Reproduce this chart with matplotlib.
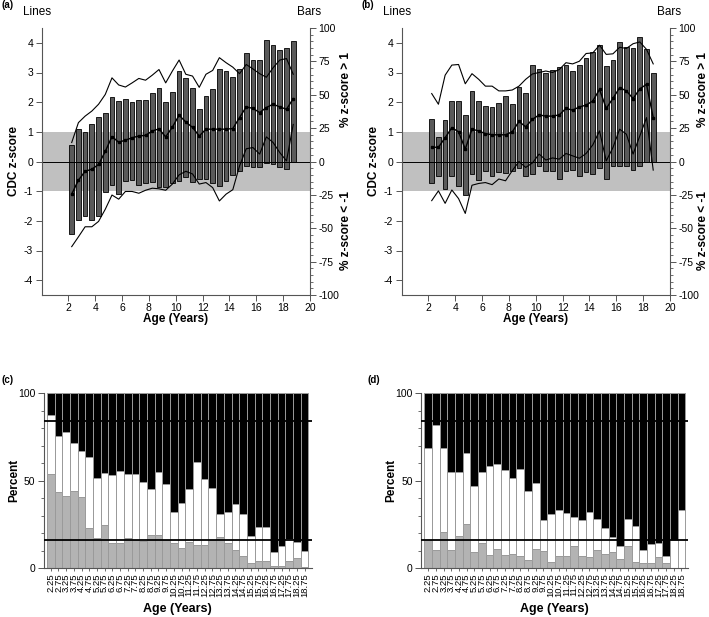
import numpy as np
import matplotlib
matplotlib.use('Agg')
import matplotlib.pyplot as plt
from matplotlib.patches import Rectangle
from matplotlib.transforms import blended_transform_factory
from matplotlib.ticker import MultipleLocator

plt.rcParams['font.family'] = ['Liberation Sans', 'DejaVu Sans']
plt.rcParams['axes.unicode_minus'] = False

# age groups (years)
ages = [2.25, 2.75, 3.25, 3.75, 4.25, 4.75, 5.25, 5.75, 6.25, 6.75, 7.25, 7.75,
        8.25, 8.75, 9.25, 9.75, 10.25, 10.75, 11.25, 11.75, 12.25, 12.75, 13.25,
        13.75, 14.25, 14.75, 15.25, 15.75, 16.25, 16.75, 17.25, 17.75, 18.25, 18.75]

# group A: % z-score > 1 and % z-score < -1
a_above = [12.4, 24.3, 22.3, 28.3, 33.3, 36.5, 48.3, 45.4, 46.7, 44.3, 46.0, 46.2,
           51.0, 54.9, 44.9, 52.1, 67.7, 62.6, 54.7, 39.4, 49.3, 54.2, 69.3,
           68.0, 63.3, 69.1, 81.4, 76.2, 76.2, 90.7, 87.5, 83.5, 85.0, 90.2]
a_below = [54.0, 43.5, 41.1, 44.0, 40.7, 23.1, 17.5, 24.5, 14.7, 14.2, 17.5, 16.0,
           15.5, 18.8, 18.8, 16.4, 14.3, 11.8, 15.1, 13.1, 13.1, 15.9, 18.0,
           14.5, 10.3, 6.8, 3.3, 4.3, 4.3, 1.1, 1.5, 3.9, 5.8, 0.6]
# group A: CDC z-score lines
a_upper = [0.64, 1.31, 1.53, 1.70, 1.93, 2.26, 2.82, 2.58, 2.51, 2.65, 2.80, 2.74,
           2.91, 3.10, 2.65, 3.05, 3.42, 2.94, 2.88, 2.50, 2.94, 3.07, 3.50,
           3.33, 3.18, 2.96, 3.27, 3.12, 2.96, 2.84, 3.16, 3.42, 3.47, 2.94]
a_mid = [-1.10, -0.63, -0.33, -0.26, -0.10, 0.34, 0.84, 0.65, 0.72, 0.80, 0.86, 0.88,
         1.03, 1.10, 0.83, 1.16, 1.56, 1.33, 1.15, 0.86, 1.09, 1.09, 1.09,
         1.09, 1.11, 1.48, 1.84, 1.79, 1.65, 1.82, 1.93, 1.84, 1.76, 2.12]
a_lower = [-2.87, -2.54, -2.20, -2.20, -2.02, -1.61, -1.13, -1.27, -1.01, -1.01, -1.07, -0.97,
           -0.90, -0.92, -0.97, -0.76, -0.45, -0.33, -0.42, -0.76, -0.71, -0.88, -1.33,
           -1.10, -0.95, -0.15, 0.43, 0.47, 0.25, 0.83, 0.64, 0.30, 0.02, 1.25]

# group B
b_above = [31.6, 18.5, 31.2, 45.0, 45.3, 34.5, 53.0, 45.1, 41.8, 40.5, 43.7, 48.7,
           43.4, 55.8, 51.1, 72.3, 69.0, 66.5, 68.6, 70.6, 72.5, 67.6, 72.0,
           77.2, 82.3, 87.3, 71.6, 75.9, 89.8, 85.9, 85.3, 93.0, 84.0, 66.5]
b_below = [16.0, 10.6, 20.6, 10.6, 18.3, 25.2, 9.5, 14.2, 7.4, 11.0, 7.8, 8.3,
           6.8, 4.9, 11.2, 9.6, 3.4, 7.0, 6.8, 12.9, 7.0, 6.3, 10.6,
           8.2, 9.5, 5.2, 12.9, 3.5, 3.3, 3.1, 6.3, 3.0, 0.0, 0.0]
b_upper = [2.29, 1.93, 2.91, 3.25, 3.27, 2.62, 2.96, 2.77, 2.54, 2.54, 2.38, 2.38,
           2.41, 2.54, 2.77, 2.95, 3.00, 3.05, 3.00, 3.10, 3.33, 3.29, 3.38,
           3.64, 3.66, 3.92, 3.61, 3.63, 3.85, 3.81, 3.97, 4.03, 3.78, 3.29]
b_mid = [0.48, 0.48, 0.80, 1.14, 1.00, 0.42, 1.09, 1.03, 0.94, 0.90, 0.90, 0.90,
         1.00, 1.35, 1.17, 1.42, 1.57, 1.53, 1.53, 1.57, 1.79, 1.73, 1.84,
         1.90, 2.04, 2.43, 1.79, 2.13, 2.49, 2.38, 2.12, 2.45, 2.60, 1.48]
b_lower = [-1.32, -0.99, -1.41, -0.96, -1.25, -1.75, -0.80, -0.74, -0.71, -0.78, -0.59, -0.65,
           -0.31, 0.00, -0.20, -0.05, 0.25, 0.05, 0.12, 0.08, 0.27, 0.19, 0.11,
           0.27, 0.56, 1.03, 0.02, 0.47, 1.09, 0.92, 0.25, 0.86, 1.48, -0.29]

W, H = 709, 617
fig = plt.figure(figsize=(W / 100, H / 100), dpi=100)


def px_axes(l, t, r, b):
    return fig.add_axes([l / W, 1 - b / H, (r - l) / W, (b - t) / H])


def lines_panel(box, above, below, upper, mid, lower, tag, tag_x, rlab_x):
    ax = px_axes(*box)
    ax2 = ax.twinx()
    ax.set_zorder(ax2.get_zorder() + 1)
    ax.patch.set_visible(False)

    ax.set_xlim(0, 20)
    ax.set_ylim(-4.5, 4.5)
    ax2.set_ylim(-100, 100)

    band = Rectangle((0, -1), 1, 2, transform=blended_transform_factory(ax2.transAxes, ax.transData),
                     facecolor='#c0c0c0', edgecolor='none', zorder=0)
    ax2.add_patch(band)
    ax2.bar(ages, above, width=0.35, color='#5a5a5a', edgecolor='k', lw=0.6, zorder=2)
    ax2.bar(ages, -np.array(below), width=0.35, color='#5a5a5a', edgecolor='k', lw=0.6, zorder=2)

    ax.axhline(0, color='k', lw=0.7)
    ax.plot(ages, upper, color='k', lw=0.8)
    ax.plot(ages, lower, color='k', lw=0.8)
    ax.plot(ages, mid, color='k', lw=1.0, marker='s', ms=2)

    for s in ['top', 'right']:
        ax.spines[s].set_visible(False)
    for s in ['top', 'left', 'bottom']:
        ax2.spines[s].set_visible(False)
    for a in (ax, ax2):
        for s in a.spines.values():
            s.set_color('#555555')
            s.set_linewidth(0.8)

    ax.set_xticks(range(2, 21, 2))
    ax.set_yticks(range(-4, 5))
    ax2.set_yticks(range(-100, 101, 25))
    ax2.yaxis.set_minor_locator(MultipleLocator(5))
    ax.tick_params(labelsize=7.5, length=4, width=0.7, color='#555555', pad=2)
    ax2.tick_params(which='major', labelsize=7.5, length=4, width=0.7, color='#555555', pad=2)
    ax2.tick_params(which='minor', length=2, width=0.6, color='#555555')

    ax.set_ylabel('CDC z-score', fontsize=8.5, fontweight='bold')
    ax.yaxis.set_label_coords(-0.08, 0.5)
    ax.set_xlabel('Age (Years)', fontsize=8.5, fontweight='bold')
    ax.xaxis.set_label_coords(0.5, -0.066)
    ax2.text(rlab_x, 0.768, '% z-score > 1', rotation=90, ha='center', va='center',
             transform=ax2.transAxes, fontsize=8.5, fontweight='bold')
    ax2.text(rlab_x, 0.243, '% z-score < -1', rotation=90, ha='center', va='center',
             transform=ax2.transAxes, fontsize=8.5, fontweight='bold')

    l = box[0]
    fig.text((l - 19) / W, 1 - 12 / H, 'Lines', fontsize=8.5, va='center')
    fig.text((l + 268) / W, 1 - 12 / H, 'Bars', fontsize=8.5, va='center', ha='center')
    fig.text(tag_x / W, 1 - 5 / H, tag, fontsize=7, fontweight='bold', va='center')


def stack_panel(box, above, below, tag, tag_x, ylab_px):
    ax = px_axes(*box)
    x = np.arange(len(ages))
    above = np.array(above)
    below = np.array(below)
    middle = 100 - above - below
    ax.bar(x, below, width=1, color='#b3b3b3', edgecolor='#9a9a9a', lw=0.7)
    ax.bar(x, middle, bottom=below, width=1, color='white', edgecolor='#9a9a9a', lw=0.7)
    ax.bar(x, above, bottom=below + middle, width=1, color='black', edgecolor='#9a9a9a', lw=0.7)
    ax.axhline(84.13, color='k', lw=1.3, zorder=4)
    ax.axhline(15.87, color='k', lw=1.3, zorder=4)

    ax.set_xlim(-0.95, 33.9)
    ax.set_ylim(0, 100)
    ax.set_xticks(x)
    ax.set_xticklabels([f'{a:.2f}' for a in ages], rotation=90, fontsize=6.8)
    ax.set_yticks([0, 50, 100])
    ax.yaxis.set_minor_locator(MultipleLocator(10))
    ax.tick_params(axis='y', labelsize=7.5, length=4, width=0.7, color='#555555', pad=2)
    ax.tick_params(axis='y', which='minor', length=2, width=0.6, color='#555555')
    ax.tick_params(axis='x', length=2.5, width=0.6, color='#555555', pad=1)
    for s in ['top', 'right']:
        ax.spines[s].set_visible(False)
    for s in ['left', 'bottom']:
        ax.spines[s].set_color('#555555')
        ax.spines[s].set_linewidth(0.8)

    ax.set_ylabel('Percent', fontsize=8.5, fontweight='bold')
    ax.yaxis.set_label_coords((ylab_px - box[0]) / (box[2] - box[0]), 0.5)
    ax.set_xlabel('Age (Years)', fontsize=9, fontweight='bold')
    ax.xaxis.set_label_coords(0.5, -0.2)
    fig.text(tag_x / W, 1 - 380 / H, tag, fontsize=7, fontweight='bold', va='center')


lines_panel((41.5, 28, 310, 295), a_above, a_below, a_upper, a_mid, a_lower, '(a)', 1, 1.135)
lines_panel((401.5, 28, 670, 295), b_above, b_below, b_upper, b_mid, b_lower, '(b)', 362, 1.122)
stack_panel((43.5, 393, 311.5, 568.3), a_above, a_below, '(c)', 2, 20)
stack_panel((421, 393, 688.3, 568.3), b_above, b_below, '(d)', 367, 397)

fig.savefig('out.png', dpi=100)
